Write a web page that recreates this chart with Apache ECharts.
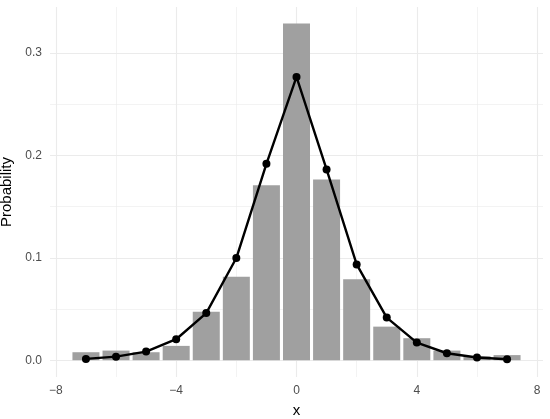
<!DOCTYPE html>
<html>
<head>
<meta charset="utf-8">
<script src="https://cdn.jsdelivr.net/npm/echarts@6/dist/echarts.min.js"></script>
<style>
  html, body { margin: 0; padding: 0; background: #fff; }
  #chart { width: 550px; height: 419px; }
</style>
</head>
<body>
<div id="chart"></div>
<script>
  // observed frequencies (bars) and fitted probabilities (line), x = -7..7
  const xs = [-7, -6, -5, -4, -3, -2, -1, 0, 1, 2, 3, 4, 5, 6, 7]
  const observed = [0.0078, 0.0094, 0.0078, 0.014, 0.0474, 0.0816, 0.171, 0.3288, 0.1766, 0.079, 0.0328, 0.0215, 0.0094, 0.004, 0.005]
  const fitted = [0.0013, 0.0035, 0.0084, 0.0205, 0.046, 0.0998, 0.1918, 0.2767, 0.1863, 0.0936, 0.0416, 0.0172, 0.0068, 0.0027, 0.001]
  const xTicks = [-8, -4, 0, 4, 8]
  const xMinor = [-6, -2, 2, 6]
  const yTicks = [0, 0.1, 0.2, 0.3]
  const yMinor = [0.05, 0.15, 0.25]

  const gridColor = '#ebebeb'
  const textColor = '#4d4d4d'
  const font = 'Liberation Sans'
  const xMin = -8.195, xMax = 8.195
  const yMin = -0.0164, yMax = 0.345

  const fmtX = v => v < 0 ? '\u2212' + Math.abs(v) : String(v)

  const dom = echarts.init(document.getElementById('chart'))
  const option = {
    animation: false,
    grid: { left: 50, right: 7, top: 7, bottom: 42, containLabel: false, outerBoundsMode: 'none' },
    xAxis: [{
      type: 'value',
      min: xMin,
      max: xMax,
      name: 'x',
      nameLocation: 'middle',
      nameGap: 26,
      nameTextStyle: { color: '#000', fontSize: 15, fontFamily: font },
      axisLine: { show: false },
      axisTick: { show: false, customValues: xTicks },
      axisLabel: { customValues: xTicks, formatter: fmtX, color: textColor, fontSize: 12, fontFamily: font, margin: 8 },
      splitLine: { show: true, lineStyle: { color: gridColor, width: 1.1 } }
    }, {
      type: 'value',
      min: xMin,
      max: xMax,
      position: 'bottom',
      axisLine: { show: false },
      axisTick: { show: false, customValues: xMinor },
      axisLabel: { show: false, customValues: xMinor },
      splitLine: { show: true, lineStyle: { color: gridColor, width: 0.6 } }
    }],
    yAxis: [{
      type: 'value',
      min: yMin,
      max: yMax,
      name: 'Probability',
      nameLocation: 'middle',
      nameGap: 28,
      nameTextStyle: { color: '#000', fontSize: 15, fontFamily: font },
      axisLine: { show: false },
      axisTick: { show: false, customValues: yTicks },
      axisLabel: { customValues: yTicks, formatter: v => v.toFixed(1), color: textColor, fontSize: 12, fontFamily: font, margin: 8 },
      splitLine: { show: true, lineStyle: { color: gridColor, width: 1.1 } }
    }, {
      type: 'value',
      min: yMin,
      max: yMax,
      position: 'left',
      axisLine: { show: false },
      axisTick: { show: false, customValues: yMinor },
      axisLabel: { show: false, customValues: yMinor },
      splitLine: { show: true, lineStyle: { color: gridColor, width: 0.6 } }
    }],
    series: [{
      type: 'bar',
      data: xs.map((x, i) => [x, observed[i]]),
      barWidth: 27,
      itemStyle: { color: '#a0a0a0' },
      silent: true
    }, {
      type: 'line',
      data: xs.map((x, i) => [x, fitted[i]]),
      symbol: 'circle',
      symbolSize: 8,
      lineStyle: { color: '#000', width: 2.4 },
      itemStyle: { color: '#000' },
      silent: true
    }]
  }
  dom.setOption(option)
</script>
</body>
</html>
